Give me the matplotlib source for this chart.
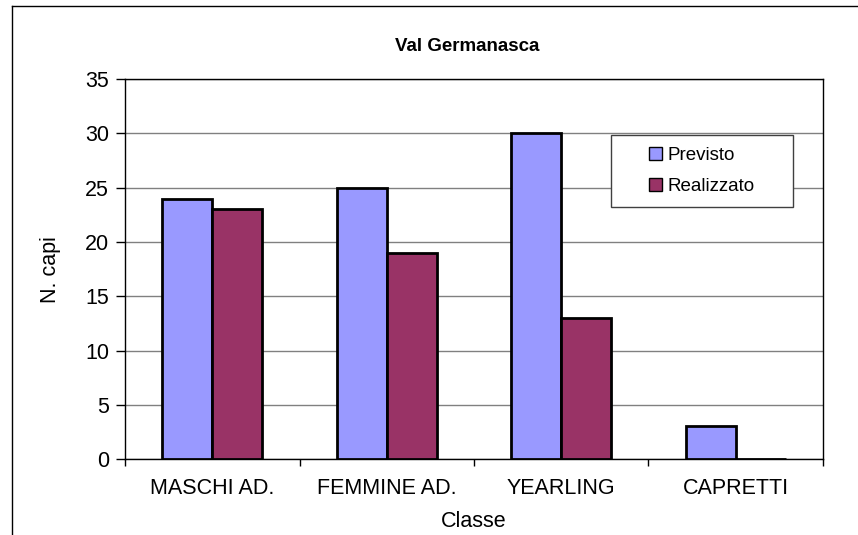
import numpy as np
import matplotlib.pyplot as plt
from matplotlib.lines import Line2D
from matplotlib.patches import Rectangle

plt.rcParams["font.family"] = ["Liberation Sans", "DejaVu Sans"]

categories = ["MASCHI AD.", "FEMMINE AD.", "YEARLING", "CAPRETTI"]
previsto = [24, 25, 30, 3]
realizzato = [23, 19, 13, 0]
series_names = ["Previsto", "Realizzato"]
yticks = [0, 5, 10, 15, 20, 25, 30, 35]

BLUE = "#9999FF"
MAROON = "#993366"

fig = plt.figure(figsize=(8.58, 5.35), dpi=100)
ax = fig.add_axes([0.1457, 0.142, 0.8135, 0.710])

x = np.arange(len(categories))
w = 0.286
ax.bar(x - w / 2, previsto, w, color=BLUE, edgecolor="black", linewidth=2,
       label=series_names[0], zorder=3)
ax.bar(x + w / 2, realizzato, w, color=MAROON, edgecolor="black", linewidth=2,
       label=series_names[1], zorder=3)

ax.set_xlim(-0.5, len(categories) - 0.5)
ax.set_ylim(0, 35)
ax.set_yticks(yticks)
ax.set_yticklabels([str(v) for v in yticks], fontsize=15.5)
ax.yaxis.grid(True, color="#808080", linewidth=1, zorder=0)
ax.tick_params(axis="y", direction="out", length=6.5, width=1, pad=5)

# category labels centred, tick marks on the boundaries
ax.set_xticks(x)
ax.set_xticklabels(categories, fontsize=15.5)
ax.tick_params(axis="x", length=0, pad=14)
ax.set_xticks(np.arange(len(categories) + 1) - 0.5, minor=True)
ax.tick_params(axis="x", which="minor", direction="out", length=5, width=1)

for s in ax.spines.values():
    s.set_color("black")
    s.set_linewidth(1)

ax.set_xlabel("Classe", fontsize=15.5, labelpad=8)
ax.set_ylabel("N. capi", fontsize=15.5, labelpad=17)
ax.set_title("Val Germanasca", fontsize=13.5, fontweight="bold", pad=20, x=0.49)

# legend box drawn by hand, entries centred inside it
box = Rectangle((0.696, 0.663), 0.261, 0.19, transform=ax.transAxes,
                facecolor="white", edgecolor="#404040", linewidth=1, zorder=4)
ax.add_patch(box)
leg = ax.legend(loc="center", bbox_to_anchor=(0.8265, 0.758), fontsize=13.5,
                frameon=False, handlelength=0.65, handleheight=0.65,
                handletextpad=0.3, borderpad=0, labelspacing=0.75,
                borderaxespad=0)
leg.set_zorder(5)
for h in leg.legend_handles:
    h.set_edgecolor("black")
    h.set_linewidth(1)

# outer chart border (only left and top edges visible in the crop)
fig.add_artist(Line2D([12 / 858, 12 / 858], [0, 1 - 6 / 535],
                      transform=fig.transFigure, color="black", linewidth=1))
fig.add_artist(Line2D([12 / 858, 1], [1 - 6 / 535, 1 - 6 / 535],
                      transform=fig.transFigure, color="black", linewidth=1))

fig.savefig("out.png", dpi=100)
